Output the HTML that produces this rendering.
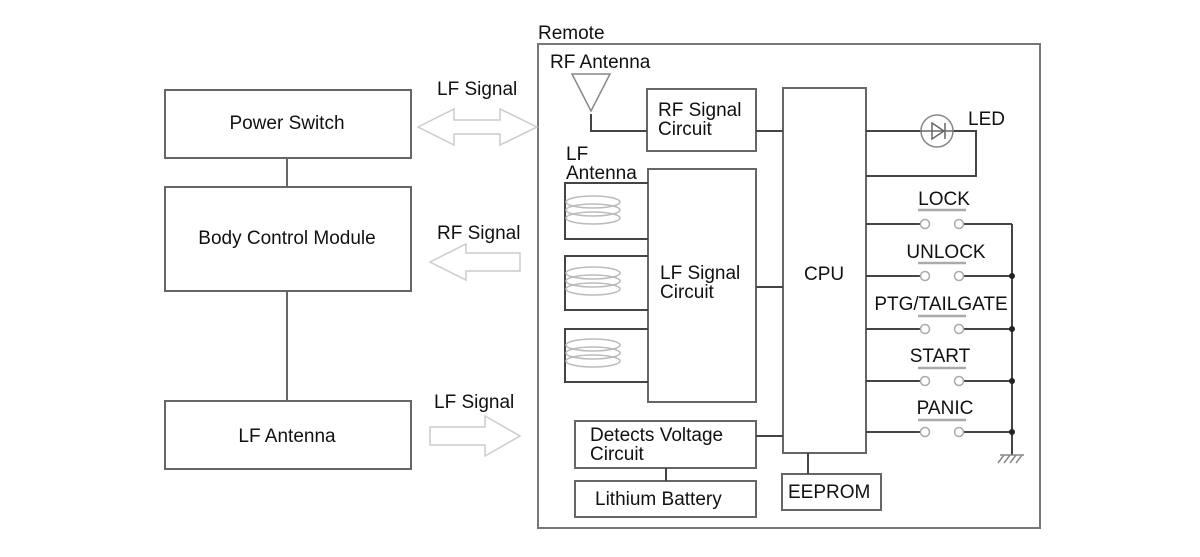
<!DOCTYPE html>
<html><head><meta charset="utf-8"><style>
html,body{margin:0;padding:0;background:#fff;}
svg text{font-family:"Liberation Sans",Arial,sans-serif;fill:#111;}
</style></head><body>
<svg width="1200" height="552" viewBox="0 0 1200 552" xmlns="http://www.w3.org/2000/svg">
<g fill="none" stroke="#666" stroke-width="2">
<rect x="165" y="90" width="246" height="68"/>
<rect x="165" y="187" width="246" height="104"/>
<rect x="165" y="401" width="246" height="68"/>
<line x1="287" y1="158" x2="287" y2="187"/>
<line x1="287" y1="291" x2="287" y2="401"/>
<rect x="538" y="44" width="502" height="484" stroke="#777"/>
<rect x="647" y="89" width="109" height="62"/>
<rect x="783" y="88" width="83" height="365"/>
<rect x="648" y="169" width="108" height="233"/>
<rect x="575" y="421" width="181" height="47"/>
<rect x="575" y="481" width="181" height="36"/>
<rect x="782" y="474" width="99" height="36"/>
</g>
<g fill="none" stroke="#444" stroke-width="2">
<polyline points="591,114 591,131 647,131"/>
<line x1="756" y1="131" x2="783" y2="131"/>
<line x1="756" y1="287" x2="783" y2="287"/>
<line x1="756" y1="436" x2="783" y2="436"/>
<line x1="666" y1="468" x2="666" y2="481"/>
<line x1="808" y1="453" x2="808" y2="474"/>
<polyline points="648,183 565,183 565,239 648,239"/>
<polyline points="648,256 565,256 565,310 648,310"/>
<polyline points="648,329 565,329 565,382 648,382"/>
<polyline points="866,131 976,131 976,176 866,176"/>
<line x1="866" y1="224" x2="920" y2="224"/><line x1="964" y1="224" x2="1012" y2="224"/>
<line x1="866" y1="276" x2="920" y2="276"/><line x1="964" y1="276" x2="1012" y2="276"/>
<line x1="866" y1="329" x2="920" y2="329"/><line x1="964" y1="329" x2="1012" y2="329"/>
<line x1="866" y1="381" x2="920" y2="381"/><line x1="964" y1="381" x2="1012" y2="381"/>
<line x1="866" y1="432" x2="920" y2="432"/><line x1="964" y1="432" x2="1012" y2="432"/>
<line x1="1012" y1="224" x2="1012" y2="455"/>
</g>
<g fill="#222"><circle cx="1012" cy="276" r="3"/><circle cx="1012" cy="329" r="3"/><circle cx="1012" cy="381" r="3"/><circle cx="1012" cy="432" r="3"/></g>
<g stroke="#888" stroke-width="1.5" fill="none">
<line x1="1000" y1="455" x2="1024" y2="455"/>
<line x1="1004" y1="455" x2="998" y2="463"/><line x1="1010" y1="455" x2="1004" y2="463"/><line x1="1016" y1="455" x2="1010" y2="463"/><line x1="1022" y1="455" x2="1016" y2="463"/>
</g>
<g fill="#fff" stroke="#aaa" stroke-width="1.5">
<circle cx="925" cy="224" r="4.5"/><circle cx="959" cy="224" r="4.5"/>
<circle cx="925" cy="276" r="4.5"/><circle cx="959" cy="276" r="4.5"/>
<circle cx="925" cy="329" r="4.5"/><circle cx="959" cy="329" r="4.5"/>
<circle cx="925" cy="381" r="4.5"/><circle cx="959" cy="381" r="4.5"/>
<circle cx="925" cy="432" r="4.5"/><circle cx="959" cy="432" r="4.5"/>
</g>
<g stroke="#aaa" stroke-width="2.5">
<line x1="918" y1="210" x2="966" y2="210"/>
<line x1="918" y1="263" x2="966" y2="263"/>
<line x1="918" y1="316" x2="966" y2="316"/>
<line x1="918" y1="368" x2="966" y2="368"/>
<line x1="918" y1="420" x2="966" y2="420"/>
</g>
<g fill="#fff" stroke="#888" stroke-width="1.5">
<circle cx="937" cy="131" r="16"/>
</g>
<g stroke="#666" stroke-width="1.5" fill="none">
<line x1="921" y1="131" x2="953" y2="131"/>
<polygon points="932,123 932,139 944,131"/>
<line x1="945" y1="123" x2="945" y2="139"/>
<polygon points="572,74 610,74 591,111" stroke="#888"/>
</g>
<g fill="none" stroke="#bbb" stroke-width="1.5">
<ellipse cx="593" cy="202" rx="27" ry="6"/><ellipse cx="593" cy="210" rx="27" ry="6"/><ellipse cx="593" cy="218" rx="27" ry="6"/>
<ellipse cx="593" cy="273" rx="27" ry="6"/><ellipse cx="593" cy="281" rx="27" ry="6"/><ellipse cx="593" cy="289" rx="27" ry="6"/>
<ellipse cx="593" cy="345" rx="27" ry="6"/><ellipse cx="593" cy="353" rx="27" ry="6"/><ellipse cx="593" cy="361" rx="27" ry="6"/>
</g>
<g fill="#fff" stroke="#ccc" stroke-width="1.5">
<polygon points="418,127 454,109 454,120 500,120 500,109 537,127 500,145 500,134 454,134 454,145"/>
<polygon points="430,262 466,244 466,253 520,253 520,271 466,271 466,280"/>
<polygon points="430,427 485,427 485,416 520,436 485,456 485,445 430,445"/>
</g>
<g font-size="19">
<text x="287" y="129" text-anchor="middle">Power Switch</text>
<text x="287" y="244" text-anchor="middle">Body Control Module</text>
<text x="287" y="442" text-anchor="middle">LF Antenna</text>
<text x="437" y="95">LF Signal</text>
<text x="437" y="239">RF Signal</text>
<text x="434" y="408">LF Signal</text>
<text x="538" y="39">Remote</text>
<text x="550" y="68">RF Antenna</text>
<text x="658" y="116">RF Signal</text>
<text x="658" y="135">Circuit</text>
<text x="566" y="160">LF</text>
<text x="566" y="179">Antenna</text>
<text x="660" y="279">LF Signal</text>
<text x="660" y="298">Circuit</text>
<text x="804" y="280">CPU</text>
<text x="590" y="441">Detects Voltage</text>
<text x="590" y="460">Circuit</text>
<text x="595" y="505">Lithium Battery</text>
<text x="788" y="498">EEPROM</text>
<text x="968" y="125">LED</text>
<text x="944" y="205" text-anchor="middle">LOCK</text>
<text x="946" y="258" text-anchor="middle">UNLOCK</text>
<text x="941" y="310" text-anchor="middle">PTG/TAILGATE</text>
<text x="940" y="362" text-anchor="middle">START</text>
<text x="945" y="414" text-anchor="middle">PANIC</text>
</g>
</svg>
</body></html>
